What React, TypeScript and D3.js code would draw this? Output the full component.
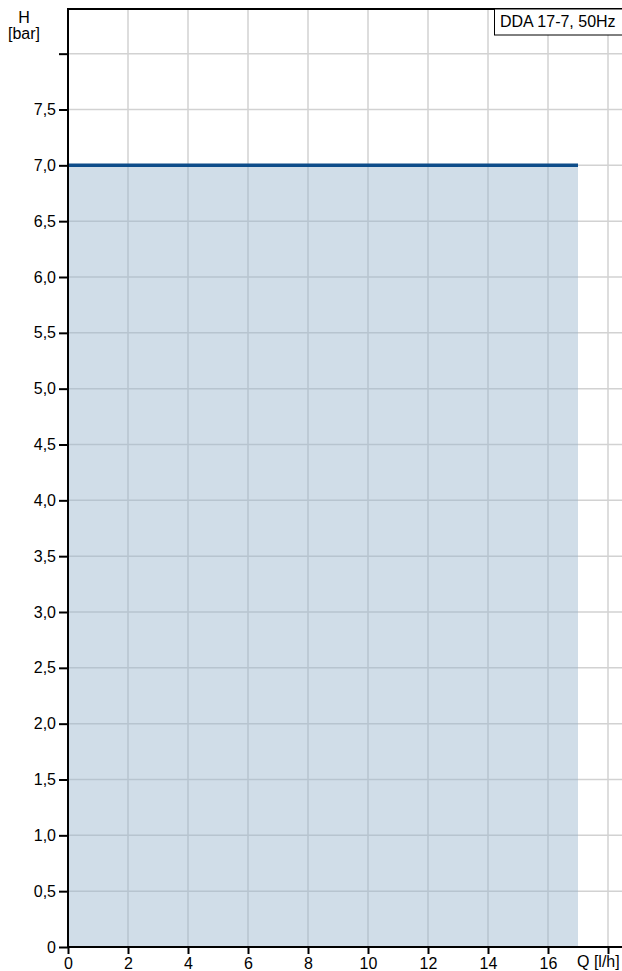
import React, { useEffect, useRef } from 'react';
import * as d3 from 'd3';

// curve data
const flowValues = [0, 17];
const headValues = [7.0, 7.0];

// axis ticks
const xTicks = [0, 2, 4, 6, 8, 10, 12, 14, 16, 18];
const xTickLabels = ['0', '2', '4', '6', '8', '10', '12', '14', '16', ''];
const yTicks = [0, 0.5, 1, 1.5, 2, 2.5, 3, 3.5, 4, 4.5, 5, 5.5, 6, 6.5, 7, 7.5, 8];
const yTickLabels = ['0', '0,5', '1,0', '1,5', '2,0', '2,5', '3,0', '3,5', '4,0', '4,5', '5,0', '5,5', '6,0', '6,5', '7,0', '7,5', ''];

const legendText = 'DDA 17-7, 50Hz';

const App = () => {
  const svgRef = useRef<SVGSVGElement | null>(null);

  useEffect(() => {
    if (!svgRef.current) return;
    const svg = d3.select(svgRef.current);
    svg.selectAll('*').remove();

    const W = 622;
    const left = 68;
    const top = 9;
    const bottom = 947;

    const x = d3.scaleLinear().domain([0, 18.5]).range([left, left + 18.5 * 30]);
    const y = d3.scaleLinear().domain([0, 8.4]).range([bottom, top]);

    const font = 'Arial, "Liberation Sans", sans-serif';
    const fs = 16;
    const data = flowValues.map((q, i) => ({ q, h: headValues[i] }));

    // grid
    const grid = svg.append('g');
    grid.selectAll('line.vx')
      .data(xTicks.filter(d => d > 0))
      .enter().append('line')
      .attr('x1', d => x(d)).attr('x2', d => x(d))
      .attr('y1', top).attr('y2', bottom)
      .attr('stroke', '#d2d2d2').attr('stroke-width', 1.5);
    grid.selectAll('line.hy')
      .data(yTicks.filter(d => d > 0))
      .enter().append('line')
      .attr('x1', left).attr('x2', W)
      .attr('y1', d => y(d)).attr('y2', d => y(d))
      .attr('stroke', '#d2d2d2').attr('stroke-width', 1.5);

    // operating area
    const area = d3.area<{ q: number; h: number }>()
      .x(d => x(d.q))
      .y0(y(0))
      .y1(d => y(d.h));
    svg.append('path')
      .datum(data)
      .attr('fill', 'rgba(150, 180, 205, 0.45)')
      .attr('d', area);

    const line = d3.line<{ q: number; h: number }>()
      .x(d => x(d.q))
      .y(d => y(d.h));
    svg.append('path')
      .datum(data)
      .attr('fill', 'none')
      .attr('stroke', '#0e4d8a')
      .attr('stroke-width', 3.5)
      .attr('d', line);

    // axes
    const yAxis = svg.append('g')
      .attr('transform', `translate(${left},0)`)
      .call(d3.axisLeft(y).tickValues(yTicks).tickSize(9).tickPadding(3)
        .tickFormat((d, i) => yTickLabels[i]));
    const xAxis = svg.append('g')
      .attr('transform', `translate(0,${bottom})`)
      .call(d3.axisBottom(x).tickValues(xTicks).tickSize(7).tickPadding(4)
        .tickFormat((d, i) => xTickLabels[i]));

    [yAxis, xAxis].forEach(ax => {
      ax.select('.domain').remove();
      ax.selectAll('.tick line').attr('stroke', '#000').attr('stroke-width', 2);
      ax.selectAll('.tick text')
        .attr('font-family', font)
        .attr('font-size', fs)
        .attr('fill', '#000');
    });

    // frame lines
    svg.append('line')
      .attr('x1', left).attr('x2', left).attr('y1', top).attr('y2', bottom + 1)
      .attr('stroke', '#000').attr('stroke-width', 2);
    svg.append('line')
      .attr('x1', left - 1).attr('x2', W).attr('y1', bottom).attr('y2', bottom)
      .attr('stroke', '#000').attr('stroke-width', 2);
    svg.append('line')
      .attr('x1', left - 1).attr('x2', W).attr('y1', top).attr('y2', top)
      .attr('stroke', '#000').attr('stroke-width', 2);

    // axis titles
    svg.append('text')
      .attr('x', 24).attr('y', 23)
      .attr('text-anchor', 'middle')
      .attr('font-family', font).attr('font-size', fs)
      .text('H');
    svg.append('text')
      .attr('x', 24).attr('y', 39)
      .attr('text-anchor', 'middle')
      .attr('font-family', font).attr('font-size', fs)
      .text('[bar]');
    svg.append('text')
      .attr('x', 577).attr('y', 967)
      .attr('text-anchor', 'start')
      .attr('font-family', font).attr('font-size', fs)
      .text('Q [l/h]');

    // legend
    svg.append('rect')
      .attr('x', 494.5).attr('y', 9)
      .attr('width', 140).attr('height', 26)
      .attr('fill', '#fff')
      .attr('stroke', '#000').attr('stroke-width', 1);
    svg.append('text')
      .attr('x', 500).attr('y', 27)
      .attr('font-family', font).attr('font-size', 16)
      .text(legendText);
  }, []);

  return (
    <svg
      ref={svgRef}
      width={622}
      height={971}
      style={{ position: 'absolute', left: 0, top: 0, background: '#fff' }}
    />
  );
};

export default App;
